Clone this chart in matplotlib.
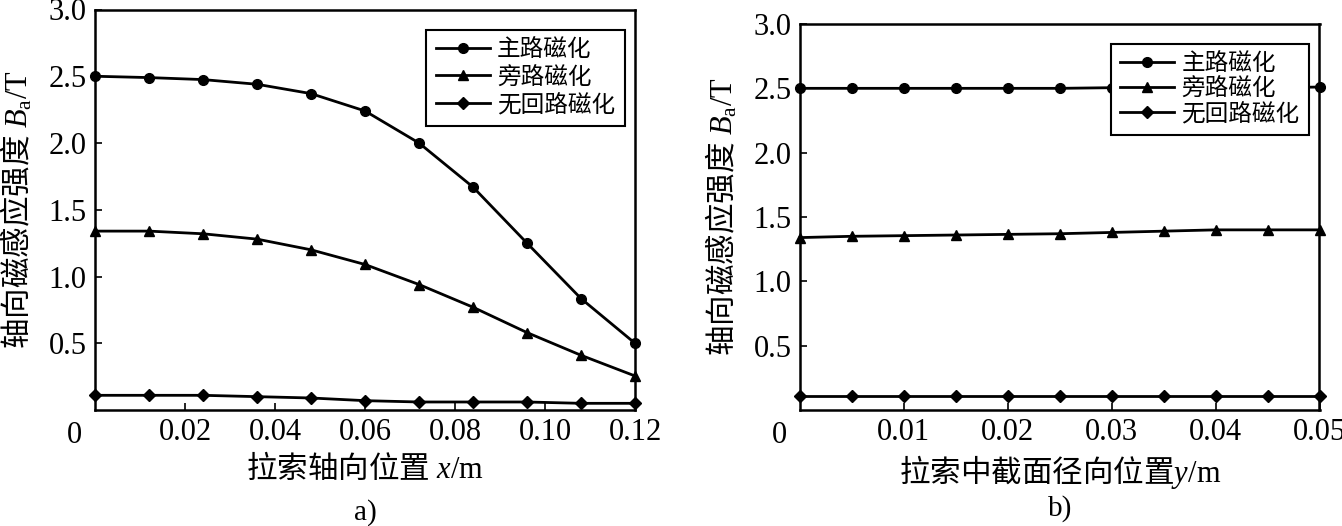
import matplotlib
matplotlib.use("Agg")
import matplotlib.pyplot as plt

plt.rcParams['font.family'] = ['Liberation Serif', 'Noto Sans CJK SC']
plt.rcParams['mathtext.fontset'] = 'custom'
plt.rcParams['mathtext.rm'] = 'Liberation Serif'
plt.rcParams['mathtext.it'] = 'Liberation Serif:italic'
plt.rcParams['mathtext.sf'] = 'Noto Sans CJK SC'

# ---- data: panel a)
x_a = [0, 0.012, 0.024, 0.036, 0.048, 0.06, 0.072, 0.084, 0.096, 0.108, 0.12]
main_a = [2.50, 2.49, 2.475, 2.44, 2.37, 2.24, 2.00, 1.67, 1.25, 0.835, 0.50]
side_a = [1.34, 1.34, 1.32, 1.28, 1.20, 1.09, 0.94, 0.77, 0.58, 0.41, 0.255]
none_a = [0.11, 0.11, 0.11, 0.10, 0.09, 0.07, 0.06, 0.06, 0.06, 0.05, 0.05]
xticks_a = [0.02, 0.04, 0.06, 0.08, 0.10, 0.12]
xticklabels_a = ['0.02', '0.04', '0.06', '0.08', '0.10', '0.12']

# ---- data: panel b)
x_b = [0, 0.005, 0.01, 0.015, 0.02, 0.025, 0.03, 0.035, 0.04, 0.045, 0.05]
main_b = [2.50, 2.50, 2.50, 2.50, 2.50, 2.50, 2.505, 2.505, 2.505, 2.505, 2.51]
side_b = [1.34, 1.35, 1.355, 1.36, 1.365, 1.37, 1.38, 1.39, 1.40, 1.40, 1.40]
none_b = [0.11, 0.11, 0.11, 0.11, 0.11, 0.11, 0.11, 0.11, 0.11, 0.11, 0.11]
xticks_b = [0.01, 0.02, 0.03, 0.04, 0.05]
xticklabels_b = ['0.01', '0.02', '0.03', '0.04', '0.05']

yticks = [0.5, 1.0, 1.5, 2.0, 2.5, 3.0]
yticklabels = ['0.5', '1.0', '1.5', '2.0', '2.5', '3.0']
labels = ['主路磁化', '旁路磁化', '无回路磁化']

W, H = 1342, 526
fig = plt.figure(figsize=(W / 100, H / 100), dpi=100)

def pix_axes(l, r, t, b):
    return fig.add_axes([l / W, 1 - b / H, (r - l) / W, (b - t) / H])

ax1 = pix_axes(95, 635, 9.5, 410)
ax2 = pix_axes(800, 1319.5, 24, 410)

YLABEL = '$\\mathsf{轴向磁感应强度}\\ B_{\\mathrm{a}}/\\mathrm{T}$'

def style(ax, xs, series, xmax, xticks, xticklabels, xlabel, panel,
          legend_anchor, lspacing):
    for (ys, m, ms), lab in zip(zip(series, ['o', '^', 'D'], [7, 7.5, 6.5]), labels):
        ax.plot(xs, ys, color='black', lw=2, marker=m, ms=ms, label=lab,
                clip_on=False, zorder=2)
    ax.set_xlim(0, xmax)
    ax.set_ylim(0, 3.0)
    ax.set_xticks(xticks)
    ax.set_xticklabels(xticklabels)
    ax.set_yticks(yticks)
    ax.set_yticklabels(yticklabels)
    ax.tick_params(direction='in', length=5, width=1.2, labelsize=22, pad=6,
                   top=False, right=False)
    for s in ax.spines.values():
        s.set_linewidth(1.8)
    ax.annotate('0', xy=(0, 0), xycoords='axes fraction', xytext=(-15, -8),
                textcoords='offset points', ha='center', va='top', fontsize=22)
    ax.set_xlabel(xlabel, fontsize=22, labelpad=4)
    ax.set_ylabel(YLABEL, fontsize=22, labelpad=10)
    leg = ax.legend(loc='upper right', bbox_to_anchor=legend_anchor, fontsize=17,
                    frameon=True, fancybox=False, edgecolor='black', framealpha=1,
                    handlelength=2.3, labelspacing=lspacing, borderpad=0.4,
                    handletextpad=0.3, borderaxespad=0)
    leg.get_frame().set_linewidth(1.5)
    leg.set_zorder(5)
    ax.text(0.5, -0.255, panel, transform=ax.transAxes, ha='center', va='center',
            fontsize=21)

style(ax1, x_a, [main_a, side_a, none_a], 0.12, xticks_a, xticklabels_a,
      '$\\mathsf{拉索轴向位置}\\ x/\\mathrm{m}$', 'a)', (0.981, 0.95), 0.22)
style(ax2, x_b, [main_b, side_b, none_b], 0.05, xticks_b, xticklabels_b,
      '$\\mathsf{拉索中截面径向位置}y/\\mathrm{m}$', 'b)', (0.98, 0.949), 0.12)

fig.savefig('out.png', dpi=100)
